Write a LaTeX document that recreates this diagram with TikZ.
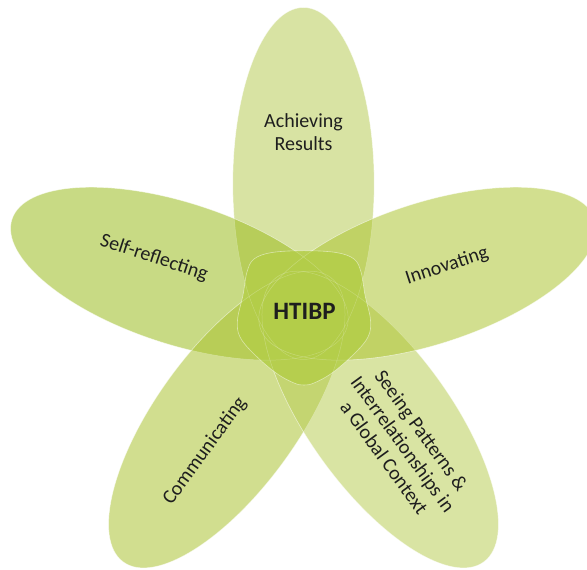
\documentclass[tikz,border=0pt]{standalone}
\usepackage{fontspec}
\setmainfont{Carlito}
\definecolor{pTop}{RGB}{184,204,88}
\definecolor{pLeft}{RGB}{155,188,31}
\definecolor{pRight}{RGB}{173,197,51}
\definecolor{pBL}{RGB}{171,195,51}
\definecolor{pBR}{RGB}{186,206,88}
\definecolor{hub}{RGB}{180,206,74}
\definecolor{txt}{RGB}{30,30,30}
\tikzset{
  petal/.style={fill=#1, fill opacity=0.55, draw=white, draw opacity=0.45, line width=0.6pt},
  petaledge/.style={draw=white, draw opacity=0.2, line width=0.5pt},
  lbl/.style={text=txt, font=\fontsize{20}{23}\selectfont, align=center, inner sep=0pt},
  hublbl/.style={text=txt, font=\fontsize{25}{28}\selectfont\bfseries, inner sep=0pt}
}
\begin{document}
\begin{tikzpicture}[x=1pt,y=1pt]
\useasboundingbox (0,0) rectangle (587,570);
\clip (0,0) rectangle (587,570);
\coordinate (C) at (303.5,256);
% petals
\foreach \ang/\col in {0/pTop, 72/pLeft, 144/pBL, 216/pBR, 288/pRight}{
  \path[petal=\col, rotate around={\ang:(C)}] (303.5,386.5) ellipse [x radius=70.7, y radius=176];
}
% hub shape
\begin{scope}[shift={(304,0)}]
\path[fill=hub, fill opacity=0.88, draw=white, draw opacity=0.5, line width=0.6pt]
  plot[smooth cycle, tension=0.6] coordinates {
  (0,319.3) (32,317.5) (50,311) (57,298) (61,275) (66.5,250) (64,233) (50,216) (28,197) (10,187)
  (0,185) (-10,187) (-28,197) (-50,216) (-64,233) (-66.5,250) (-61,275) (-57,298) (-50,311) (-32,317.5)};
\end{scope}
% faint petal edges over hub
\foreach \ang in {0,72,144,216,288}{
  \path[petaledge, rotate around={\ang:(C)}] (303.5,386.5) ellipse [x radius=70.7, y radius=176];
}
% labels
\node[hublbl] (hub) at (304.5,258.5) {HTIBP};
\node[lbl] (ach) at (303.5,438) {Achieving\\Results};
\node[lbl, rotate=-18] (self) at (154,312) {Self-reflecting};
\node[lbl, rotate=18] (inn) at (447,304) {Innovating};
\node[lbl, rotate=54] (com) at (205,119) {Communicating};
\node[lbl, rotate=-54] (see) at (403,126) {Seeing Patterns \&\\Interrelationships in\\a Global Context};
\end{tikzpicture}
\end{document}
